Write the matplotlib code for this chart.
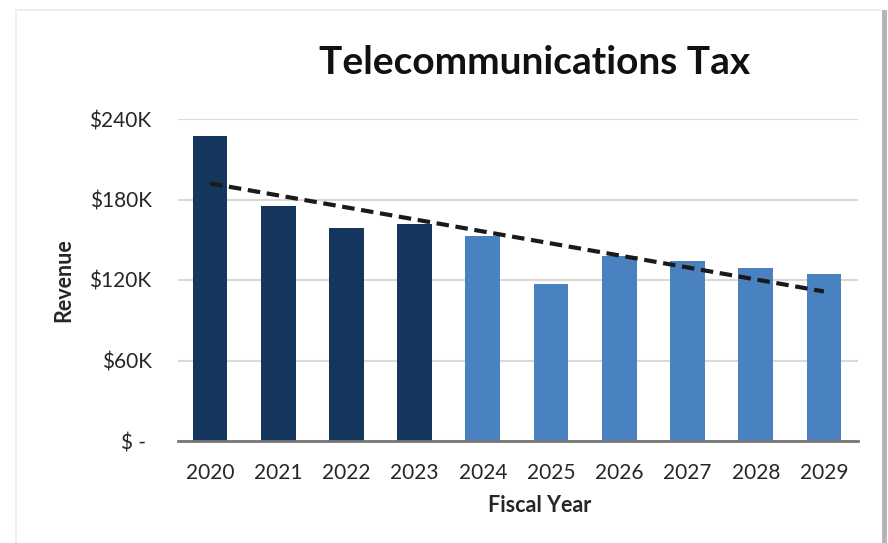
import numpy as np
import matplotlib
matplotlib.use("Agg")
import matplotlib.pyplot as plt
from matplotlib.lines import Line2D

# data
anos = ["2020", "2021", "2022", "2023", "2024", "2025", "2026", "2027", "2028", "2029"]
receita = [227, 175, 158.7, 161.7, 152.8, 117, 137.9, 134, 128.9, 124.4]  # $K
realizado = [True, True, True, True, False, False, False, False, False, False]
y_ticks = [0, 60, 120, 180, 240]
y_labels = ["$ - ", "$60K", "$120K", "$180K", "$240K"]

cor_escura = "#14365d"
cor_clara = "#4a81c1"

plt.rcParams['font.family'] = ['Lato', 'DejaVu Sans']

fig = plt.figure(figsize=(8.88, 5.43), dpi=100)
W, H = 888, 543

# moldura clara e sombra a direita
fig.add_artist(Line2D([16 / W, 16 / W], [0, 1 - 10 / H], color="#efefef", lw=1.5))
fig.add_artist(Line2D([16 / W, 881 / W], [1 - 10 / H, 1 - 10 / H], color="#efefef", lw=1.5))
fig.add_artist(Line2D([884 / W, 884 / W], [0, 1 - 12 / H], color="#b3b3b3", lw=3.5))

ax = fig.add_axes([178 / W, 1 - 441 / H, 680 / W, 322 / H])

x = np.arange(len(anos))
cores = [cor_escura if r else cor_clara for r in realizado]
ax.bar(x, receita, width=0.51, color=cores, zorder=3)

# linha de tendencia linear
coef = np.polyfit(x, receita, 1)
ax.plot(x, np.polyval(coef, x), color="#1a1a1a", lw=3, ls=(0, (3, 1.6)), zorder=4)

ax.set_xlim(-0.47, 9.5)
ax.set_ylim(0, 240)
ax.set_yticks(y_ticks)
ax.set_yticklabels(y_labels)
ax.set_xticks(x)
ax.set_xticklabels(anos)
ax.tick_params(axis="both", length=0, labelsize=15, colors="#262626")
ax.tick_params(axis="y", pad=19)
ax.tick_params(axis="x", pad=16)

ax.grid(axis="y", color="#d9d9d9", lw=1.5, zorder=0)
for s in ["top", "right", "left"]:
    ax.spines[s].set_visible(False)
ax.spines["bottom"].set_color("#767676")
ax.spines["bottom"].set_linewidth(2)
ax.spines["bottom"].set_zorder(5)

ax.set_ylabel("Revenue", fontsize=15.5, fontweight="bold", color="#262626")
ax.yaxis.set_label_coords(-0.152, 0.5)
ax.set_xlabel("Fiscal Year", fontsize=15.5, fontweight="bold", color="#262626")
ax.xaxis.set_label_coords(0.532, -0.168)

fig.text(535 / W, 1 - 63 / H, "Telecommunications Tax", fontsize=28, fontweight="bold",
         ha="center", va="center", color="#111111")

plt.savefig("out.png", dpi=100)
